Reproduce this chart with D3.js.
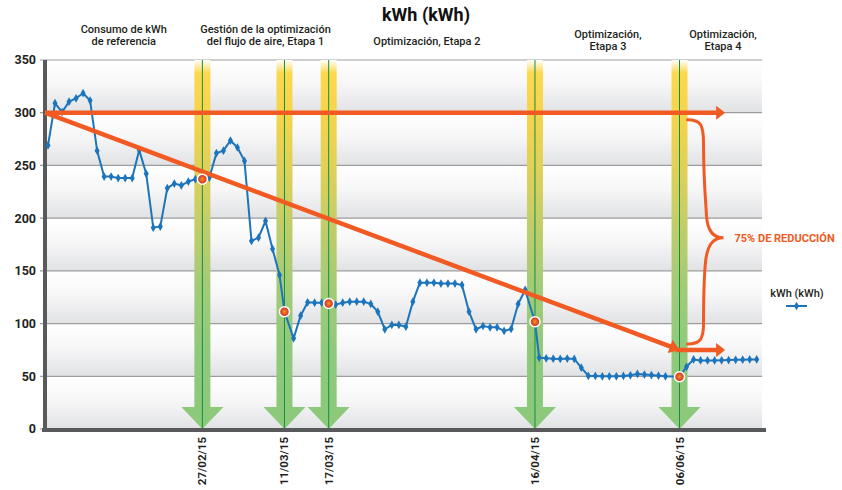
<!DOCTYPE html>
<html>
<head>
<meta charset="utf-8">
<script src="https://cdn.jsdelivr.net/npm/d3@7"></script>
<style>
  html, body { margin: 0; padding: 0; background: #fff; }
  svg { display: block; font-family: Roboto, "Liberation Sans", sans-serif; }
</style>
</head>
<body>
<svg id="chart" width="842" height="490"></svg>
<script>
// ---------------- DATA ----------------
const chartTitle = "kWh (kWh)";
const seriesName = "kWh (kWh)";
const yTicks = [0, 50, 100, 150, 200, 250, 300, 350];

// position of each reading along the x axis (reading number) and its kWh value
const readingPos = [
  0, 1, 2, 3, 4, 5, 6, 7, 8, 9, 10, 11, 12, 13, 14, 15, 16, 17, 18, 19,
  20, 21, 22, 23, 24, 25, 26, 27, 28, 29, 30, 31, 32, 33, 33.7, 35, 36, 37, 38, 39,
  40, 41, 42, 43, 44, 45, 46, 47, 48, 49, 50, 51, 52, 53, 54, 55, 56, 57, 58, 59,
  60, 61, 62, 63, 64, 65, 66, 67, 68, 69.4, 70, 71, 72, 73, 74, 75, 76, 77, 78, 79,
  80, 81, 82, 83, 84, 85, 86, 87, 88, 90, 91, 92, 93, 94, 95, 96, 97, 98, 99, 100, 101
];
const kwhValues = [
  269, 309, 300.5, 310.5, 313.7, 318.5, 311.5, 264, 239.4, 239.4,
  238, 238, 238, 264.7, 242, 191, 192, 228.4, 232.8, 231,
  234.7, 236.9, 237, 238.5, 261.6, 264, 273.6, 267, 254.3, 178.4,
  181.5, 197.3, 170.8, 146, 111.3, 86, 107.5, 120.2, 119.8, 119.8,
  119, 118, 119.8, 120.8, 120.8, 120.8, 118.6, 111.3, 94.6, 98.7,
  98.7, 97, 120.8, 138.8, 138.8, 138.8, 137.9, 137.9, 137.9, 136.6,
  111.3, 94.6, 97.7, 96.4, 96.4, 93, 94.9, 118.6, 131.9, 101.8,
  67.7, 67, 66.7, 66.5, 66.8, 66.5, 58.2, 50.3, 50.3, 50,
  50, 50, 50.3, 50.9, 52.2, 51.6, 51.2, 50.6, 50, 49.6,
  59, 66, 65, 65, 65, 65.2, 65.4, 65.6, 65.8, 66, 66
];

// optimisation events (dates shown on the x axis)
const eventDates = ["27/02/15", "11/03/15", "17/03/15", "16/04/15", "06/06/15"];
const eventPos = [22, 33.7, 40, 69.4, 90];

// stage captions above the plot
const stageLines = [
  ["Consumo de kWh", "de referencia"],
  ["Gestión de la optimización", "del flujo de aire, Etapa 1"],
  ["Optimización, Etapa 2"],
  ["Optimización,", "Etapa 3"],
  ["Optimización,", "Etapa 4"]
];
const stageCenterPos = [10.8, 31, 54, 79.8, 96.2];

// reduction annotation
const baselineKwh = 300;
const targetKwh = 75;
const trendStartPos = -0.43;
const trendEndPos = 90;
const arrowEndPos = 96.5;
const reductionLabel = "75% DE REDUCCIÓN";

// ---------------- CHART ----------------
const svg = d3.select("#chart");
const plotLeft = 45, plotRight = 762;

const x = d3.scaleLinear().domain([0, 101]).range([48, 756.7]);
const y = d3.scaleLinear().domain([0, 350]).range([429, 60]);

const defs = svg.append("defs");
const bandGrad = defs.append("linearGradient").attr("id", "bandGrad")
  .attr("x1", 0).attr("y1", 0).attr("x2", 0).attr("y2", 1);
bandGrad.append("stop").attr("offset", "0%").attr("stop-color", "#ffffff");
bandGrad.append("stop").attr("offset", "45%").attr("stop-color", "#f7f7f8");
bandGrad.append("stop").attr("offset", "100%").attr("stop-color", "#e1e2e4");

const arrowGrad = defs.append("linearGradient").attr("id", "arrowGrad")
  .attr("gradientUnits", "userSpaceOnUse")
  .attr("x1", 0).attr("y1", y(350)).attr("x2", 0).attr("y2", y(0));
[["0", "#ffffff"], ["0.035", "#fcd84e"], ["0.14", "#f6d44c"], ["0.3", "#dfd059"],
 ["0.46", "#bfcd6b"], ["0.62", "#a2cb77"], ["0.78", "#90c97b"], ["1", "#8cc97b"]]
  .forEach(([o, c]) => arrowGrad.append("stop").attr("offset", o).attr("stop-color", c));

const redGrad = defs.append("radialGradient").attr("id", "redGrad");
redGrad.append("stop").attr("offset", "0%").attr("stop-color", "#f7941d");
redGrad.append("stop").attr("offset", "100%").attr("stop-color", "#c8202f");

// background bands
const bandData = yTicks.slice(0, -1);
svg.append("g").selectAll("rect").data(bandData).join("rect")
  .attr("x", plotLeft).attr("width", plotRight - plotLeft)
  .attr("y", d => y(d + 50)).attr("height", d => y(d) - y(d + 50))
  .attr("fill", "url(#bandGrad)");

// gridlines
svg.append("g").selectAll("line").data(yTicks).join("line")
  .attr("x1", plotLeft - 5).attr("x2", plotRight)
  .attr("y1", d => y(d)).attr("y2", d => y(d))
  .attr("stroke", "#9d9d9f").attr("stroke-width", 1.2);

// green event arrows
const headH = 22, headW = 21, shaftW = 8;
const ev = svg.append("g").selectAll("g").data(eventPos).join("g");
ev.append("rect")
  .attr("x", d => x(d) - shaftW).attr("width", shaftW * 2)
  .attr("y", y(350)).attr("height", y(0) - headH - y(350))
  .attr("fill", "url(#arrowGrad)");
ev.append("path")
  .attr("d", d => `M${x(d) - headW},${y(0) - headH}L${x(d) + headW},${y(0) - headH}L${x(d)},${y(0)}Z`)
  .attr("fill", "#8cc97b");
ev.append("line")
  .attr("x1", d => x(d)).attr("x2", d => x(d))
  .attr("y1", y(350)).attr("y2", y(0))
  .attr("stroke", "#139043").attr("stroke-width", 1);

// axes
svg.append("line").attr("x1", plotLeft).attr("x2", plotLeft)
  .attr("y1", y(350)).attr("y2", y(0) + 3)
  .attr("stroke", "#58595b").attr("stroke-width", 4);
svg.append("line").attr("x1", plotLeft - 3).attr("x2", plotRight + 4)
  .attr("y1", y(0) + 1).attr("y2", y(0) + 1)
  .attr("stroke", "#58595b").attr("stroke-width", 4);

svg.append("g").selectAll("text").data(yTicks).join("text")
  .attr("x", 36).attr("y", d => y(d)).attr("dy", "0.35em")
  .attr("text-anchor", "end").attr("font-size", 12.5).attr("font-weight", 700)
  .attr("fill", "#231f20").text(d => d);

// date labels
svg.append("g").selectAll("text").data(eventPos).join("text")
  .attr("transform", d => `translate(${x(d)},${y(0) + 8}) rotate(-90)`)
  .attr("text-anchor", "end").attr("dy", "0.35em")
  .attr("font-size", 11.5).attr("font-weight", 700).attr("fill", "#231f20")
  .text((d, i) => eventDates[i]);

// data line
const pts = readingPos.map((p, i) => ({ p, v: kwhValues[i] }));
const lineGen = d3.line().x(d => x(d.p)).y(d => y(d.v));

svg.append("path").datum(pts).attr("d", lineGen)
  .attr("fill", "none").attr("stroke", "#1c75bc").attr("stroke-width", 2)
  .attr("stroke-linejoin", "round");
svg.append("g").selectAll("path").data(pts).join("path")
  .attr("transform", d => `translate(${x(d.p)},${y(d.v)})`)
  .attr("d", d3.symbol(d3.symbolDiamond, 22))
  .attr("fill", "#1c75bc");

// orange reduction annotation
const orange = "#f15a22";
const og2 = svg.append("g");
// upper horizontal arrow
og2.append("line")
  .attr("x1", x(trendStartPos)).attr("x2", x(arrowEndPos) - 6)
  .attr("y1", y(baselineKwh)).attr("y2", y(baselineKwh))
  .attr("stroke", orange).attr("stroke-width", 4.5);
og2.append("path")
  .attr("d", `M${x(arrowEndPos) - 9},${y(baselineKwh) - 7}L${x(arrowEndPos)},${y(baselineKwh)}L${x(arrowEndPos) - 9},${y(baselineKwh) + 7}Z`)
  .attr("fill", orange);
// diagonal trend arrow
const x0 = x(trendStartPos), y0 = y(baselineKwh), x1 = x(trendEndPos), y1 = y(targetKwh);
const ang = Math.atan2(y1 - y0, x1 - x0);
const hl = 10, hw = 7;
const bx = x1 - hl * Math.cos(ang), by = y1 - hl * Math.sin(ang);
og2.append("line").attr("x1", x0).attr("y1", y0).attr("x2", bx + 2 * Math.cos(ang)).attr("y2", by + 2 * Math.sin(ang))
  .attr("stroke", orange).attr("stroke-width", 4.5);
og2.append("path")
  .attr("d", `M${bx - hw * Math.sin(ang)},${by + hw * Math.cos(ang)}L${x1},${y1}L${bx + hw * Math.sin(ang)},${by - hw * Math.cos(ang)}Z`)
  .attr("fill", orange);
// lower horizontal arrow
og2.append("line")
  .attr("x1", x1 - 4).attr("x2", x(arrowEndPos) - 6)
  .attr("y1", y(targetKwh)).attr("y2", y(targetKwh))
  .attr("stroke", orange).attr("stroke-width", 4.5);
og2.append("path")
  .attr("d", `M${x(arrowEndPos) - 9},${y(targetKwh) - 7}L${x(arrowEndPos)},${y(targetKwh)}L${x(arrowEndPos) - 9},${y(targetKwh) + 7}Z`)
  .attr("fill", orange);

// brace
const bTop = y(baselineKwh) + 7, bBot = y(targetKwh) - 6;
const bMid = (bTop + bBot) / 2 + 6;
const bxL = x(trendEndPos) + 8, bxV = bxL + 16, bxT = bxL + 36;
const braceD = `M${bxL},${bTop}C${bxL + 14},${bTop} ${bxV},${bTop + 6} ${bxV},${bTop + 24}` +
  `C${bxV},${bTop + 60} ${bxV + 2},${bMid - 40} ${bxV + 3},${bMid - 22}` +
  `C${bxV + 4},${bMid - 6} ${bxV + 10},${bMid} ${bxT},${bMid}` +
  `C${bxV + 10},${bMid} ${bxV + 4},${bMid + 6} ${bxV + 2},${bMid + 24}` +
  `C${bxV},${bMid + 45} ${bxV},${bBot - 50} ${bxV},${bBot - 20}` +
  `C${bxV},${bBot - 4} ${bxL + 12},${bBot} ${bxL},${bBot}`;
og2.append("path").attr("d", braceD).attr("fill", "none")
  .attr("stroke", orange).attr("stroke-width", 3).attr("stroke-linecap", "round");
og2.append("text").attr("x", bxT + 11).attr("y", bMid).attr("dy", "0.35em")
  .attr("font-size", 11).attr("font-weight", 700).attr("fill", orange)
  .text(reductionLabel);

// red event markers
const evPts = eventPos.map(p => pts.find(d => Math.abs(d.p - p) < 1e-6));
svg.append("g").selectAll("circle").data(evPts).join("circle")
  .attr("cx", d => x(d.p)).attr("cy", d => y(d.v)).attr("r", 5)
  .attr("fill", "url(#redGrad)").attr("stroke", "#fff").attr("stroke-width", 1.5);

// title
svg.append("text").attr("x", 426).attr("y", 15).attr("dy", "0.35em")
  .attr("text-anchor", "middle").attr("font-size", 18).attr("font-weight", 700)
  .attr("fill", "#111").text(chartTitle);

// stage captions
const sg = svg.append("g").selectAll("text").data(stageLines).join("text")
  .attr("text-anchor", "middle").attr("font-size", 11).attr("font-weight", 500)
  .attr("fill", "#231f20");
sg.each(function (lines, i) {
  const t = d3.select(this);
  const startY = lines.length === 1 ? 41 : (i >= 3 ? 34 : 29);
  lines.forEach((l, j) => {
    t.append("tspan").attr("x", x(stageCenterPos[i])).attr("y", startY + j * 12)
      .attr("dy", "0.35em").text(l);
  });
});

// legend
svg.append("text").attr("x", 797).attr("y", 293).attr("dy", "0.35em")
  .attr("text-anchor", "middle").attr("font-size", 11).attr("font-weight", 500)
  .attr("fill", "#231f20").text(seriesName);
svg.append("line").attr("x1", 786).attr("x2", 807).attr("y1", 306).attr("y2", 306)
  .attr("stroke", "#1c75bc").attr("stroke-width", 2);
svg.append("path").attr("transform", "translate(796.5,306)")
  .attr("d", d3.symbol(d3.symbolDiamond, 22)).attr("fill", "#1c75bc");
</script>
</body>
</html>
